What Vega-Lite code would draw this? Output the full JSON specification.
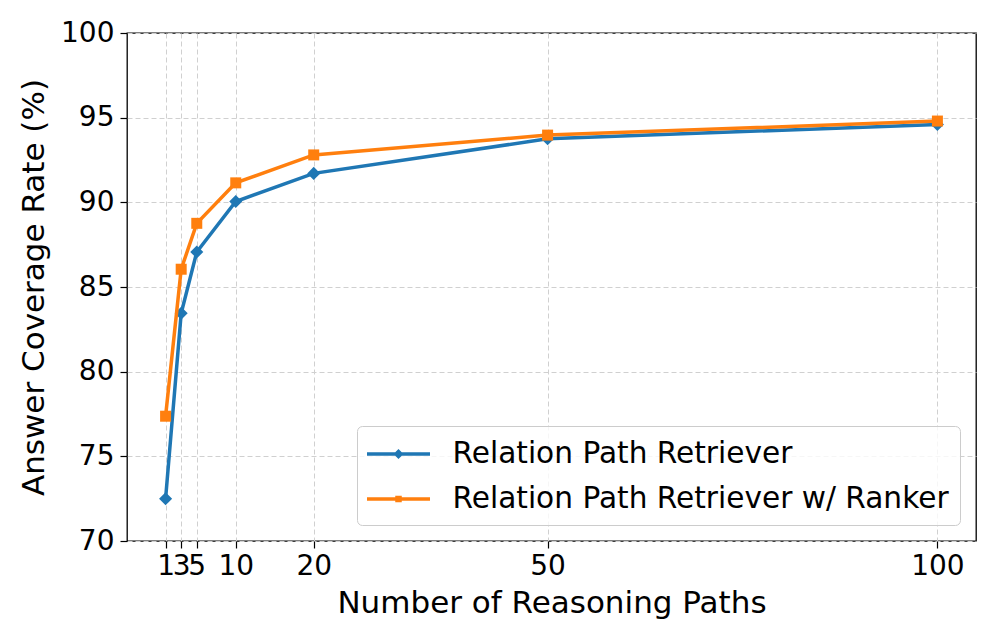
{
  "$schema": "https://vega.github.io/schema/vega-lite/v6.json",
  "width": 849,
  "height": 508,
  "autosize": "none",
  "padding": {"left": 127, "top": 33, "right": 21, "bottom": 100},
  "background": "white",
  "config": {
    "font": "DejaVu Sans",
    "view": {"stroke": "black", "strokeWidth": 1.3},
    "axis": {
      "labelFont": "DejaVu Sans",
      "titleFont": "DejaVu Sans",
      "labelFontSize": 28,
      "titleFontSize": 31,
      "titleFontWeight": "normal",
      "labelColor": "black",
      "titleColor": "black",
      "domain": false,
      "tickColor": "black",
      "tickSize": 7,
      "tickWidth": 1.2,
      "grid": true,
      "gridColor": "#d0d0d0",
      "gridDash": [5, 3],
      "gridWidth": 1,
      "labelOverlap": false,
      "labelFlush": false
    }
  },
  "data": {
    "values": [
      {"series": "Relation Path Retriever", "paths": 1, "coverage": 72.5},
      {"series": "Relation Path Retriever", "paths": 3, "coverage": 83.45},
      {"series": "Relation Path Retriever", "paths": 5, "coverage": 87.07},
      {"series": "Relation Path Retriever", "paths": 10, "coverage": 90.05},
      {"series": "Relation Path Retriever", "paths": 20, "coverage": 91.71},
      {"series": "Relation Path Retriever", "paths": 50, "coverage": 93.75},
      {"series": "Relation Path Retriever", "paths": 100, "coverage": 94.6},
      {"series": "Relation Path Retriever w/ Ranker", "paths": 1, "coverage": 77.37},
      {"series": "Relation Path Retriever w/ Ranker", "paths": 3, "coverage": 86.05},
      {"series": "Relation Path Retriever w/ Ranker", "paths": 5, "coverage": 88.76},
      {"series": "Relation Path Retriever w/ Ranker", "paths": 10, "coverage": 91.15},
      {"series": "Relation Path Retriever w/ Ranker", "paths": 20, "coverage": 92.8},
      {"series": "Relation Path Retriever w/ Ranker", "paths": 50, "coverage": 93.97},
      {"series": "Relation Path Retriever w/ Ranker", "paths": 100, "coverage": 94.8}
    ]
  },
  "encoding": {
    "x": {
      "field": "paths",
      "type": "quantitative",
      "scale": {"domain": [-3.95, 104.95], "nice": false, "zero": false},
      "axis": {"values": [1, 3, 5, 10, 20, 50, 100], "title": "Number of Reasoning Paths", "labelPadding": 4, "titlePadding": 8}
    },
    "y": {
      "field": "coverage",
      "type": "quantitative",
      "scale": {"domain": [70, 100], "nice": false, "zero": false},
      "axis": {"values": [70, 75, 80, 85, 90, 95, 100], "title": "Answer Coverage Rate (%)", "labelPadding": 6, "titlePadding": 10}
    }
  },
  "layer": [
    {
      "transform": [{"filter": "datum.series === 'Relation Path Retriever'"}],
      "mark": {"type": "line", "strokeWidth": 3.5, "color": "#1f77b4"},
      "encoding": {}
    },
    {
      "transform": [{"filter": "datum.series === 'Relation Path Retriever'"}],
      "mark": {"type": "point", "filled": true, "opacity": 1, "strokeWidth": 0, "shape": "diamond", "size": 170, "color": "#1f77b4"},
      "encoding": {}
    },
    {
      "transform": [{"filter": "datum.series === 'Relation Path Retriever w/ Ranker'"}],
      "mark": {"type": "line", "strokeWidth": 3.5, "color": "#ff7f0e"},
      "encoding": {}
    },
    {
      "transform": [{"filter": "datum.series === 'Relation Path Retriever w/ Ranker'"}],
      "mark": {"type": "point", "filled": true, "opacity": 1, "strokeWidth": 0, "shape": "square", "size": 121, "color": "#ff7f0e"},
      "encoding": {}
    },
    {
      "mark": {"type": "point", "filled": false, "opacity": 0, "strokeWidth": 3.5},
      "encoding": {
        "color": {
          "field": "series",
          "type": "nominal",
          "scale": {"domain": ["Relation Path Retriever", "Relation Path Retriever w/ Ranker"], "range": ["#1f77b4", "#ff7f0e"]},
          "legend": {
            "title": null,
            "orient": "bottom-right",
            "offset": 16,
            "labelFontSize": 29.6,
            "labelFont": "DejaVu Sans",
            "labelColor": "black",
            "labelLimit": 1000,
            "symbolSize": 900,
            "symbolStrokeWidth": 3.5,
            "symbolOpacity": 1,
            "symbolOffset": 13.5,
            "labelOffset": 37,
            "rowPadding": 13,
            "padding": 11,
            "strokeColor": "#cccccc",
            "fillColor": "rgba(255,255,255,0.8)",
            "cornerRadius": 5
          }
        },
        "shape": {
          "field": "series",
          "type": "nominal",
          "scale": {"domain": ["Relation Path Retriever", "Relation Path Retriever w/ Ranker"], "range": ["M-2.1,0L2.1,0M0,-0.17L0.17,0L0,0.17L-0.17,0Z", "M-2.1,0L2.1,0M-0.1,-0.1L0.1,-0.1L0.1,0.1L-0.1,0.1Z"]},
          "legend": {"title": null}
        }
      }
    }
  ]
}
